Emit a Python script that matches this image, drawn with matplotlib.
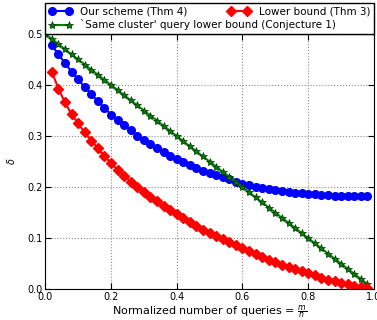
import numpy as np
import matplotlib
matplotlib.use("Agg")
import matplotlib.pyplot as plt

# normalized number of queries m/n
x = [0.02, 0.04, 0.06, 0.08, 0.10, 0.12, 0.14, 0.16, 0.18, 0.20,
     0.22, 0.24, 0.26, 0.28, 0.30, 0.32, 0.34, 0.36, 0.38, 0.40,
     0.42, 0.44, 0.46, 0.48, 0.50, 0.52, 0.54, 0.56, 0.58, 0.60,
     0.62, 0.64, 0.66, 0.68, 0.70, 0.72, 0.74, 0.76, 0.78, 0.80,
     0.82, 0.84, 0.86, 0.88, 0.90, 0.92, 0.94, 0.96, 0.98]

our_scheme = [0.478, 0.460, 0.443, 0.426, 0.411, 0.396, 0.382, 0.368, 0.355, 0.342,
              0.331, 0.321, 0.311, 0.301, 0.292, 0.284, 0.276, 0.268, 0.261, 0.255,
              0.249, 0.243, 0.237, 0.232, 0.227, 0.223, 0.219, 0.215, 0.211, 0.207,
              0.204, 0.201, 0.198, 0.196, 0.194, 0.192, 0.190, 0.189, 0.188, 0.187,
              0.186, 0.185, 0.184, 0.183, 0.183, 0.182, 0.182, 0.182, 0.182]

lower_bound = [0.426, 0.393, 0.366, 0.343, 0.325, 0.307, 0.291, 0.276, 0.261, 0.247,
               0.234, 0.222, 0.211, 0.201, 0.191, 0.181, 0.172, 0.163, 0.155, 0.147,
               0.139, 0.131, 0.124, 0.117, 0.110, 0.104, 0.098, 0.092, 0.086, 0.080,
               0.074, 0.069, 0.064, 0.058, 0.053, 0.048, 0.044, 0.039, 0.035, 0.031,
               0.027, 0.023, 0.019, 0.016, 0.013, 0.010, 0.007, 0.0045, 0.002]

x_same = [0.0] + x
same_cluster = [0.50, 0.49, 0.48, 0.47, 0.46, 0.45, 0.44, 0.43, 0.42, 0.41, 0.40,
                0.39, 0.38, 0.37, 0.36, 0.35, 0.34, 0.33, 0.32, 0.31, 0.30,
                0.29, 0.28, 0.27, 0.26, 0.25, 0.24, 0.23, 0.22, 0.21, 0.20,
                0.19, 0.18, 0.17, 0.16, 0.15, 0.14, 0.13, 0.12, 0.11, 0.10,
                0.09, 0.08, 0.07, 0.06, 0.05, 0.04, 0.03, 0.02, 0.01]

fig = plt.figure(figsize=(3.77, 3.2), dpi=100)
ax = fig.add_axes([0.120, 0.096, 0.872, 0.798])

l1, = ax.plot(x, our_scheme, color="blue", marker="o", markersize=5.5,
              markeredgecolor="blue", linewidth=1.5, label="Our scheme (Thm 4)")
l3, = ax.plot(x_same, same_cluster, color="green", marker="*", markersize=6,
              markeredgecolor="#003300", markeredgewidth=0.5, linewidth=1.5,
              label="`Same cluster' query lower bound (Conjecture 1)")
l2, = ax.plot(x, lower_bound, color="red", marker="D", markersize=5,
              markeredgecolor="red", linewidth=1.5, label="Lower bound (Thm 3)")

ax.set_xlim(0, 1)
ax.set_ylim(0, 0.5)
ax.set_xticks([0.0, 0.2, 0.4, 0.6, 0.8, 1.0])
ax.set_yticks([0.0, 0.1, 0.2, 0.3, 0.4, 0.5])
ax.tick_params(direction="in", top=True, right=True, labelsize=7, length=4, pad=2)
ax.grid(True, linestyle=":", color="0.55", linewidth=0.8)

ax.set_xlabel(r"Normalized number of queries = $\frac{m}{n}$", fontsize=8, labelpad=1)
ax.set_ylabel(r"$\delta$", fontsize=7, labelpad=7)

ax.legend(handles=[l1, l3, l2], loc="lower left", bbox_to_anchor=(0, 1, 1, 0.13),
          mode="expand", ncol=2, borderaxespad=0, fontsize=7.5, fancybox=False,
          edgecolor="black", framealpha=1, handlelength=2.2, handletextpad=0.8,
          borderpad=0.35, labelspacing=0.3, numpoints=2)

fig.savefig("out.png", dpi=100)
